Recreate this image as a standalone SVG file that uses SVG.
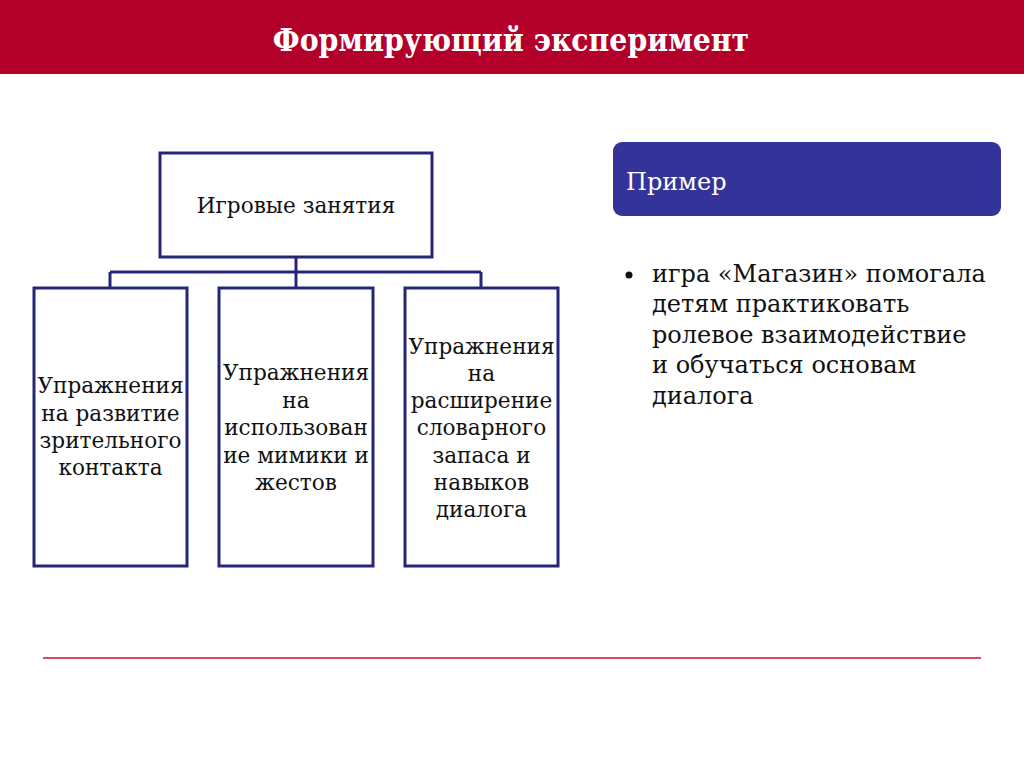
<svg xmlns="http://www.w3.org/2000/svg" width="1024" height="767" viewBox="0 0 1024 767">
<style>
.box{fill:#fff;stroke:#262676;stroke-width:3}
.conn{stroke:#262676;stroke-width:3;fill:none}
.t{font-family:"DejaVu Serif","Liberation Serif",serif;font-size:21.6px;fill:#111;text-anchor:middle}
.b{font-family:"DejaVu Serif","Liberation Serif",serif;font-size:24px;fill:#111}
</style>
<rect x="0" y="0" width="1024" height="767" fill="#fff"/>
<g id="header">
<rect x="0" y="0" width="1024" height="74" fill="#B2002B"/>
<text x="511" y="51" font-family="'DejaVu Serif Condensed','DejaVu Serif',serif" font-stretch="condensed" font-weight="bold" font-size="31.5" fill="#fff" text-anchor="middle">Формирующий эксперимент</text>
</g>
<g id="connectors">
<path class="conn" d="M296 257V272M110 272H481M110 272V288M296 272V288M481 272V288"/>
</g>
<g id="root">
<rect class="box" x="160" y="153" width="272" height="104"/>
<text class="t" x="296" y="213" font-size="22.5">Игровые занятия</text>
</g>
<g id="n1">
<rect class="box" x="34" y="288" width="153" height="278"/>
<text class="t" x="110.5" y="393">Упражнения<tspan x="110.5" y="421">на развитие</tspan><tspan x="110.5" y="448">зрительного</tspan><tspan x="110.5" y="475">контакта</tspan></text>
</g>
<g id="n2">
<rect class="box" x="219" y="288" width="154" height="278"/>
<text class="t" x="296" y="380">Упражнения<tspan x="296" y="408">на</tspan><tspan x="296" y="435">использован</tspan><tspan x="296" y="463">ие мимики и</tspan><tspan x="296" y="490">жестов</tspan></text>
</g>
<g id="n3">
<rect class="box" x="405" y="288" width="153" height="278"/>
<text class="t" x="481.5" y="354">Упражнения<tspan x="481.5" y="381">на</tspan><tspan x="481.5" y="408">расширение</tspan><tspan x="481.5" y="435">словарного</tspan><tspan x="481.5" y="463">запаса и</tspan><tspan x="481.5" y="490">навыков</tspan><tspan x="481.5" y="517">диалога</tspan></text>
</g>
<g id="example">
<rect x="613" y="142" width="388" height="74" rx="9" fill="#333399"/>
<text x="626" y="190" font-family="'DejaVu Serif',serif" font-size="24" fill="#fff">Пример</text>
</g>
<g id="bullet">
<circle cx="629" cy="275" r="3.5" fill="#111"/>
<text class="b" x="652" y="282">игра «Магазин» помогала<tspan x="652" y="312">детям практиковать</tspan><tspan x="652" y="343">ролевое взаимодействие</tspan><tspan x="652" y="373">и обучаться основам</tspan><tspan x="652" y="404">диалога</tspan></text>
</g>
<line x1="43" y1="658" x2="981" y2="658" stroke="#C8102E" stroke-width="1.5"/>
</svg>
